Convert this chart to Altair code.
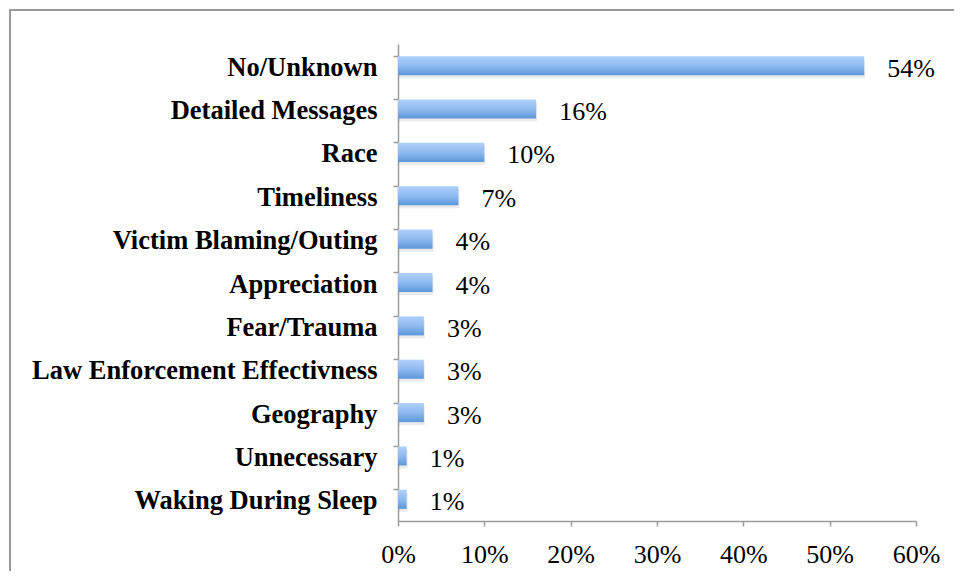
import altair as alt
import pandas as pd

categories = [
    "No/Unknown",
    "Detailed Messages",
    "Race",
    "Timeliness",
    "Victim Blaming/Outing",
    "Appreciation",
    "Fear/Trauma",
    "Law Enforcement Effectivness",
    "Geography",
    "Unnecessary",
    "Waking During Sleep",
]
values = [54, 16, 10, 7, 4, 4, 3, 3, 3, 1, 1]
x_ticks = [0, 10, 20, 30, 40, 50, 60]

df = pd.DataFrame({"cat": categories, "val": values})
df["label"] = df["val"].astype(str) + "%"

FONT = "Liberation Serif"
AXIS_GRAY = "#9b9b9b"

y_enc = alt.Y(
    "cat:N",
    sort=categories,
    scale=alt.Scale(paddingInner=0.56, paddingOuter=0.28),
    axis=alt.Axis(
        title=None,
        bandPosition=0,
        labelFont=FONT,
        labelFontSize=26.5,
        labelFontWeight="bold",
        labelColor="#000000",
        labelPadding=16,
        labelOffset=2,
        tickSize=5,
        tickColor=AXIS_GRAY,
        domainColor=AXIS_GRAY,
        domainWidth=1.5,
        tickWidth=1.5,
        labelLimit=420,
    ),
)

x_enc = alt.X(
    "val:Q",
    scale=alt.Scale(domain=[0, 60], nice=False),
    axis=alt.Axis(
        title=None,
        values=x_ticks,
        labelExpr="datum.value + '%'",
        labelFont=FONT,
        labelFontSize=26,
        labelColor="#000000",
        labelPadding=15,
        labelFlush=False,
        labelOverlap=False,
        tickSize=5,
        tickColor=AXIS_GRAY,
        domainColor=AXIS_GRAY,
        domainWidth=1.5,
        tickWidth=1.5,
        grid=False,
    ),
)

base = alt.Chart(df)

border = base.mark_rect(
    fill=None, stroke="#9a9a9a", strokeWidth=2
).encode(
    x=alt.value(-388), x2=alt.value(700), y=alt.value(-34), y2=alt.value(600)
).transform_filter("datum.cat == 'No/Unknown'")

shadow = base.mark_bar(
    color="#000000", opacity=0.08, yOffset=3, xOffset=1
).encode(y=y_enc, x=x_enc)

bars = base.mark_bar(
    color=alt.Gradient(
        gradient="linear",
        stops=[
            alt.GradientStop(color="#b0d0fa", offset=0),
            alt.GradientStop(color="#8fbaf0", offset=0.5),
            alt.GradientStop(color="#5b97db", offset=1),
        ],
        x1=0, y1=0, x2=0, y2=1,
    )
).encode(y=y_enc, x=x_enc)

text = base.mark_text(
    align="left", baseline="middle", dx=23, dy=3,
    font=FONT, fontSize=26, color="#000000"
).encode(y=y_enc, x=x_enc, text="label:N")

chart = alt.layer(border, shadow, bars, text).properties(
    width=518,
    height=477,
    padding={"left": 390, "top": 36, "right": 38, "bottom": 50},
    autosize=alt.AutoSizeParams(type="none"),
    background="#ffffff",
).configure_view(stroke=None)

chart.save("out.html", embed_options={"renderer": "svg", "actions": False})
